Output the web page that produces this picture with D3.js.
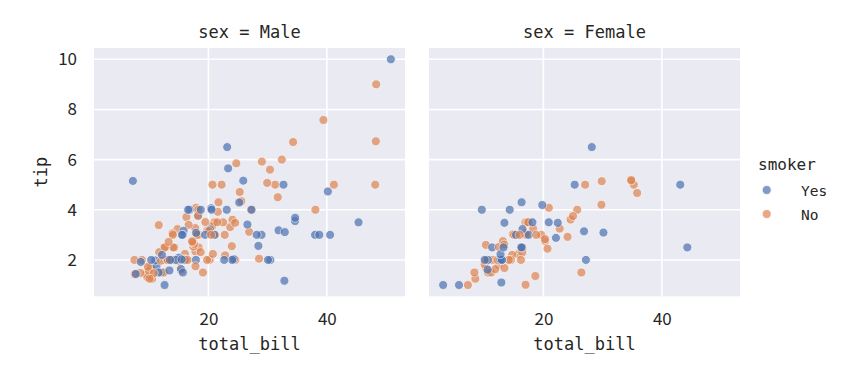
<!DOCTYPE html>
<html>
<head>
<meta charset="utf-8">
<script src="https://cdn.jsdelivr.net/npm/d3@7"></script>
<style>
  body { margin: 0; background: #fff; }
  svg { display: block; }
</style>
</head>
<body>
<svg id="chart" width="846" height="375"></svg>
<script>
// ---- data (tips dataset: total_bill, tip, sex, smoker) ----
const totalBill = [16.99,10.34,21.01,23.68,24.59,25.29,8.77,26.88,15.04,14.78,10.27,35.26,15.42,18.43,14.83,21.58,10.33,16.29,16.97,20.65,17.92,20.29,15.77,39.42,19.82,17.81,13.37,12.69,21.7,19.65,9.55,18.35,15.06,20.69,17.78,24.06,16.31,16.93,18.69,31.27,16.04,17.46,13.94,9.68,30.4,18.29,22.23,32.4,28.55,18.04,12.54,10.29,34.81,9.94,25.56,19.49,38.01,26.41,11.24,48.27,20.29,13.81,11.02,18.29,17.59,20.08,16.45,3.07,20.23,15.01,12.02,17.07,26.86,25.28,14.73,10.51,17.92,27.2,22.76,17.29,19.44,16.66,10.07,32.68,15.98,34.83,13.03,18.28,24.71,21.16,28.97,22.49,5.75,16.32,22.75,40.17,27.28,12.03,21.01,12.46,11.35,15.38,44.3,22.42,20.92,15.36,20.49,25.21,18.24,14.31,14.0,7.25,38.07,23.95,25.71,17.31,29.93,10.65,12.43,24.08,11.69,13.42,14.26,15.95,12.48,29.8,8.52,14.52,11.38,22.82,19.08,20.27,11.17,12.26,18.26,8.51,10.33,14.15,16.0,13.16,17.47,34.3,41.19,27.05,16.43,8.35,18.64,11.87,9.78,7.51,14.07,13.13,17.26,24.55,19.77,29.85,48.17,25.0,13.39,16.49,21.5,12.66,16.21,13.81,17.51,24.52,20.76,31.71,10.59,10.63,50.81,15.81,7.25,31.85,16.82,32.9,17.89,14.48,9.6,34.63,34.65,23.33,45.35,23.17,40.55,20.69,20.9,30.46,18.15,23.1,15.69,19.81,28.44,15.48,16.58,7.56,10.34,43.11,13.0,13.51,18.71,12.74,13.0,16.4,20.53,16.47,26.59,38.73,24.27,12.76,30.06,25.89,48.33,13.27,28.17,12.9,28.15,11.59,7.74,30.14,12.16,13.42,8.58,15.98,13.42,16.27,10.09,20.45,13.28,22.12,24.01,15.69,11.61,10.77,15.53,10.07,12.6,32.83,35.83,29.03,27.18,22.67,17.82,18.78];
const tip = [1.01,1.66,3.5,3.31,3.61,4.71,2.0,3.12,1.96,3.23,1.71,5.0,1.57,3.0,3.02,3.92,1.67,3.71,3.5,3.35,4.08,2.75,2.23,7.58,3.18,2.34,2.0,2.0,4.3,3.0,1.45,2.5,3.0,2.45,3.27,3.6,2.0,3.07,2.31,5.0,2.24,2.54,3.06,1.32,5.6,3.0,5.0,6.0,2.05,3.0,2.5,2.6,5.2,1.56,4.34,3.51,3.0,1.5,1.76,6.73,3.21,2.0,1.98,3.76,2.64,3.15,2.47,1.0,2.01,2.09,1.97,3.0,3.14,5.0,2.2,1.25,3.08,4.0,3.0,2.71,3.0,3.4,1.83,5.0,2.03,5.17,2.0,4.0,5.85,3.0,3.0,3.5,1.0,4.3,3.25,4.73,4.0,1.5,3.0,1.5,2.5,3.0,2.5,3.48,4.08,1.64,4.06,4.29,3.76,4.0,3.0,1.0,4.0,2.55,4.0,3.5,5.07,1.5,1.8,2.92,2.31,1.68,2.5,2.0,2.52,4.2,1.48,2.0,2.0,2.18,1.5,2.83,1.5,2.0,3.25,1.25,2.0,2.0,2.0,2.75,3.5,6.7,5.0,5.0,2.3,1.5,1.36,1.63,1.73,2.0,2.5,2.0,2.74,2.0,2.0,5.14,5.0,3.75,2.61,2.0,3.5,2.5,2.0,2.0,3.0,3.48,2.24,4.5,1.61,2.0,10.0,3.16,5.15,3.18,4.0,3.11,2.0,2.0,4.0,3.55,3.68,5.65,3.5,6.5,3.0,5.0,3.5,2.0,3.5,4.0,1.5,4.19,2.56,2.02,4.0,1.44,2.0,5.0,2.0,2.0,4.0,2.01,2.0,2.5,4.0,3.23,3.41,3.0,2.03,2.23,2.0,5.16,9.0,2.5,6.5,1.1,3.0,1.5,1.44,3.09,2.2,3.48,1.92,3.0,1.58,2.5,2.0,3.0,2.72,2.88,2.0,3.0,3.39,1.47,3.0,1.25,1.0,1.17,4.67,5.92,2.0,2.0,1.75,3.0];
const sexCodes = "FMMMFMMMMM MFMMFMFMFM MFFMMMMMMF MMFFMMMFMM MMMMMMMMMM MFFMMMMFMM MMMMMMFFMM MFFFFMMMMM MMFMMFMMMM MMFFFMMMMM FFFFFMMMMF MFMMFFMFFF MFMMFFMFFM MFFFFFFFMF FMMFFFFFMM MMMMMFMFFM MMFMFMMMFF MMMMMMMMFM MMMMMMFMFM MFMMMMMFFM MFFFMFMMMF MMMFFFMMMF MFMFMFFMMF MMMMMMMMFM FMMF";
const smokerCodes = "NNNNNNNNNN NNNNNNNNNN NNNNNNNNNN NNNNNNNNNN NNNNNNNNNN NNNNNNYNYN YYYYNNNYNY NNYYNNYNNN YNNYNNNNNN YNYYNYYYYN YYYYNYYYNY NNNNNNNNNN NNNNNNNNNN NNNNNNNNYN NNNNNNNNNN NNNNNNNNNN NNNNYNNNYY YYYYYYYYYY YYYYYNYYYY YYYYYNYYYY YYYYYYYYYY YYNYYYYYYY YYYNYYYNNY YYNNYNYYNN YYNN";
const sex = sexCodes.replace(/ /g, "").split("").map(c => c === "M" ? "Male" : "Female");
const smoker = smokerCodes.replace(/ /g, "").split("").map(c => c === "Y" ? "Yes" : "No");
const panels = ["Male", "Female"];
const hueLevels = ["Yes", "No"];
const hueColors = ["#4c72b0", "#dd8452"];
const xTicks = [20, 40];
const yTicks = [2, 4, 6, 8, 10];

const rows = totalBill.map((b, i) => ({ bill: b, tip: tip[i], sex: sex[i], smoker: smoker[i] }));

// ---- layout ----
const svg = d3.select("#chart");
const panelLeft = { Male: 94, Female: 429 };
const panelW = 311;
const plotTop = 48, plotBottom = 296.3;

const xMin = d3.min(totalBill), xMax = d3.max(totalBill);
const yMin = d3.min(tip), yMax = d3.max(tip);
const xPad = (xMax - xMin) * 0.05, yPad = (yMax - yMin) * 0.05;
const color = d3.scaleOrdinal().domain(hueLevels).range(hueColors);

const y = d3.scaleLinear().domain([yMin - yPad, yMax + yPad]).range([plotBottom, plotTop]);

const monoFont = "'DejaVu Sans Mono', monospace";
const tickFont = "'Noto Sans CJK SC', 'Noto Sans', sans-serif";

panels.forEach((p, pi) => {
  const x = d3.scaleLinear().domain([xMin - xPad, xMax + xPad])
    .range([panelLeft[p], panelLeft[p] + panelW]);
  const g = svg.append("g");

  g.append("rect").attr("x", panelLeft[p]).attr("y", plotTop)
    .attr("width", panelW).attr("height", plotBottom - plotTop).attr("fill", "#eaeaf2");

  // grid
  g.append("g").selectAll("line").data(xTicks).join("line")
    .attr("x1", d => x(d)).attr("x2", d => x(d))
    .attr("y1", plotTop).attr("y2", plotBottom)
    .attr("stroke", "#fff").attr("stroke-width", 1.6);
  g.append("g").selectAll("line").data(yTicks).join("line")
    .attr("x1", panelLeft[p]).attr("x2", panelLeft[p] + panelW)
    .attr("y1", d => y(d)).attr("y2", d => y(d))
    .attr("stroke", "#fff").attr("stroke-width", 1.6);

  // x axis
  const xAxis = g.append("g").attr("transform", `translate(0,${plotBottom})`)
    .call(d3.axisBottom(x).tickValues(xTicks).tickSize(0).tickPadding(17));
  xAxis.select(".domain").remove();
  xAxis.selectAll("text").attr("font-family", tickFont).attr("font-size", 17)
    .attr("fill", "#262626");

  if (pi === 0) {
    const yAxis = g.append("g").attr("transform", `translate(${panelLeft[p]},0)`)
      .call(d3.axisLeft(y).tickValues(yTicks).tickSize(0).tickPadding(17));
    yAxis.select(".domain").remove();
    yAxis.selectAll("text").attr("font-family", tickFont).attr("font-size", 17)
      .attr("fill", "#262626");
    svg.append("text").attr("transform", `translate(47,${(plotTop + plotBottom) / 2}) rotate(-90)`)
      .attr("text-anchor", "middle").attr("font-family", monoFont).attr("font-size", 17)
      .attr("fill", "#262626").text("tip");
  }

  // points
  g.append("g").selectAll("circle").data(rows.filter(r => r.sex === p)).join("circle")
    .attr("cx", d => x(d.bill)).attr("cy", d => y(d.tip)).attr("r", 4.5)
    .attr("fill", d => color(d.smoker))
    .attr("stroke", "#fff").attr("stroke-width", 0.75)
    .attr("opacity", 0.7);

  // title & x label
  svg.append("text").attr("x", panelLeft[p] + panelW / 2).attr("y", 37.5)
    .attr("text-anchor", "middle").attr("font-family", monoFont).attr("font-size", 17)
    .attr("fill", "#262626").text(`sex = ${p}`);
  svg.append("text").attr("x", panelLeft[p] + panelW / 2).attr("y", 350)
    .attr("text-anchor", "middle").attr("font-family", monoFont).attr("font-size", 17)
    .attr("fill", "#262626").text("total_bill");
});

// legend
const lg = svg.append("g");
lg.append("text").attr("x", 758).attr("y", 170).attr("font-family", monoFont)
  .attr("font-size", 16).attr("fill", "#262626").text("smoker");
hueLevels.forEach((h, i) => {
  lg.append("circle").attr("cx", 766.7).attr("cy", 190 + i * 24).attr("r", 4.5)
    .attr("fill", color(h)).attr("stroke", "#fff").attr("stroke-width", 0.75).attr("opacity", 0.7);
  lg.append("text").attr("x", 801).attr("y", 195.5 + i * 24).attr("font-family", monoFont)
    .attr("font-size", 14.5).attr("fill", "#262626").text(h);
});
</script>
</body>
</html>
